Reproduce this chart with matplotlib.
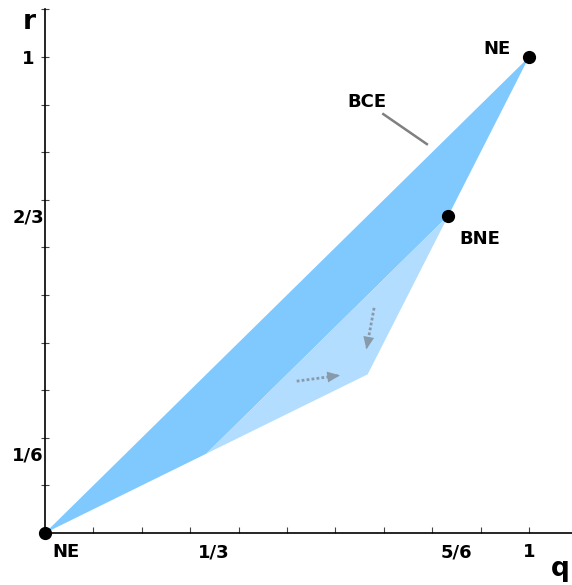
import matplotlib.pyplot as plt
from matplotlib.transforms import blended_transform_factory

# corners of the BCE region and the lighter sub-region
bce_q = [0, 1, 5/6, 1/3]
bce_r = [0, 1, 2/3, 1/6]
light_q = [1/3, 5/6, 2/3]
light_r = [1/6, 2/3, 1/3]

# equilibrium points
pts_q = [0, 1, 5/6]
pts_r = [0, 1, 2/3]

# dotted arrows (start, end)
arrows = [((0.52, 0.319), (0.615, 0.332)),
          ((0.680, 0.473), (0.663, 0.380))]

xtick_vals = [1/3, 5/6, 1]
xtick_text = ["1/3", "5/6", "1"]
ytick_vals = [1/6, 2/3, 1]
ytick_text = ["1/6", "2/3", "1"]

W, H = 572, 585
x0, y0 = 45, 533          # pixel of (0,0)
sx, sy = 484, 476         # pixels per unit

fig = plt.figure(figsize=(W / 100, H / 100), dpi=100)
xmax = (W - x0) / sx
ymax = (y0 - 9) / sy
ax = fig.add_axes([x0 / W, (H - y0) / H, (W - x0) / W, (y0 - 9) / H])
ax.set_xlim(0, xmax)
ax.set_ylim(0, ymax)

ax.fill(bce_q, bce_r, color="#80c9ff", lw=0)
ax.fill(light_q, light_r, color="#b3ddff", lw=0)

acol = "#8899aa"
for (a, b) in arrows:
    ax.plot([a[0], b[0] - (b[0] - a[0]) * 0.1], [a[1], b[1] - (b[1] - a[1]) * 0.1],
            ls=(0, (1, 0.8)), color=acol, lw=2)
    ax.annotate("", xy=b, xytext=(b[0] - (b[0] - a[0]) * 0.2, b[1] - (b[1] - a[1]) * 0.2),
                arrowprops=dict(arrowstyle="-|>,head_length=0.7,head_width=0.3",
                                color=acol, lw=0, mutation_scale=13))

ax.plot(pts_q, pts_r, "o", color="black", ms=8.5, clip_on=False, zorder=5)

# BCE pointer
ax.plot([0.699, 0.789], [0.880, 0.817], color="#808080", lw=1.8)

fs = 13
bold = dict(fontsize=fs, fontweight="bold", family="DejaVu Sans")
ax.text(0.666, 0.905, "BCE", ha="center", va="center", **bold)
ax.text(0.934, 1.017, "NE", ha="center", va="center", **bold)
ax.text(0.899, 0.618, "BNE", ha="center", va="center", **bold)
ax.text(0.043, -0.04, "NE", ha="center", va="center", clip_on=False, **bold)

for v, t in zip(xtick_vals, xtick_text):
    off = 0.016 if t != "1" else 0
    ax.text(v + off, -0.04, t, ha="center", va="center", clip_on=False, **bold)
ytr = blended_transform_factory(fig.transFigure, ax.transData)
for v, t in zip(ytick_vals, ytick_text):
    ax.text(28 / W, v - 0.004, t, ha="center", va="center", transform=ytr, **bold)

fig.text(29 / W, 1 - 22 / H, "r", ha="center", va="center", fontsize=19,
         fontweight="bold", family="DejaVu Sans")
fig.text(560 / W, 1 - 569 / H, "q", ha="center", va="center", fontsize=19,
         fontweight="bold", family="DejaVu Sans")

for s in ["top", "right"]:
    ax.spines[s].set_visible(False)
for s in ["left", "bottom"]:
    ax.spines[s].set_linewidth(1.2)
ax.set_xticks([i / 10 for i in range(1, 11)])
ax.set_yticks([i / 10 for i in range(1, 12)])
ax.set_xticklabels([])
ax.set_yticklabels([])
ax.tick_params(axis="x", direction="in", length=4, width=0.8, color="#444444")
ax.tick_params(axis="y", direction="inout", length=6, width=0.8, color="#444444")

fig.savefig("out.png", dpi=100)
